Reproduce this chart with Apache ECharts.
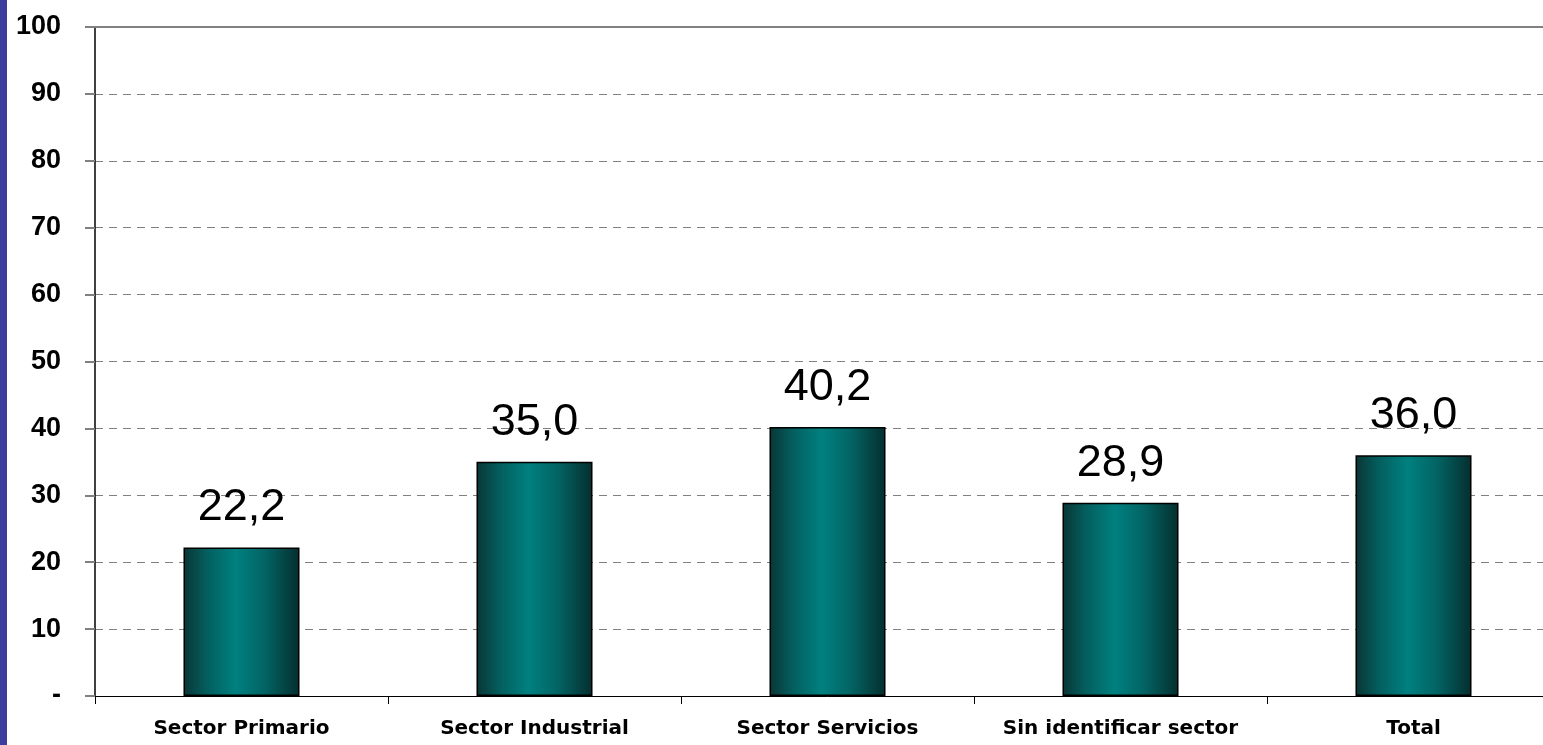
<!DOCTYPE html>
<html><head><meta charset="utf-8">
<script src="https://cdn.jsdelivr.net/npm/echarts@6/dist/echarts.min.js"></script>
<style>html,body{margin:0;padding:0;background:#fff;overflow:hidden;width:1543px;height:745px}#c{width:1560px;height:745px}</style>
</head><body><div id="c"></div>
<script>
const categories = ['Sector Primario','Sector Industrial','Sector Servicios','Sin identificar sector','Total'];
const values = [22.2, 35.0, 40.2, 28.9, 36.0];
const yTicks = [0,10,20,30,40,50,60,70,80,90,100];

const chart = echarts.init(document.getElementById('c'));
const grad = new echarts.graphic.LinearGradient(0,0,1,0,[
  {offset:0,color:'#0a3535'},
  {offset:0.2,color:'#045e5e'},
  {offset:0.45,color:'#008080'},
  {offset:0.7,color:'#036464'},
  {offset:1,color:'#052e2e'}
]);
chart.setOption({
  animation:false,
  graphic:[{type:'rect',left:0,top:0,shape:{width:7,height:745},style:{fill:'#3d3d9e'}}],
  grid:{left:95,right:0,top:27,bottom:49},
  xAxis:{type:'category',data:categories,
    axisLine:{lineStyle:{color:'#000',width:1}},
    axisTick:{show:true,length:8,lineStyle:{color:'#000'}},
    axisLabel:{interval:0,fontFamily:'DejaVu Sans',fontWeight:'bold',fontSize:20,color:'#000',margin:23}},
  yAxis:{type:'value',min:0,max:100,interval:10,
    axisLine:{show:true,lineStyle:{color:'#000',width:1.5}},
    axisTick:{show:true,length:10,lineStyle:{color:'#808080',width:2}},
    splitLine:{show:true,lineStyle:{color:'#808080',type:[8,6],width:1}},
    axisLabel:{fontFamily:'Liberation Sans, Arial',fontWeight:'bold',fontSize:27,color:'#000',margin:34,
      formatter:v=>yTicks.includes(v)?(v===0?'-':String(v)):''}},
  series:[{type:'bar',data:values,barWidth:'39.6%',
    itemStyle:{color:grad,borderColor:'#000',borderWidth:1.5},
    label:{show:true,position:'top',distance:17,fontFamily:'Liberation Sans, Arial',fontSize:45,color:'#000',
      formatter:p=>p.value.toFixed(1).replace('.',',')}},
   {type:'line',data:[],markLine:{silent:true,symbol:'none',label:{show:false},
     lineStyle:{color:'#808080',type:'solid',width:2},data:[{yAxis:100}]}}]
});
</script></body></html>
